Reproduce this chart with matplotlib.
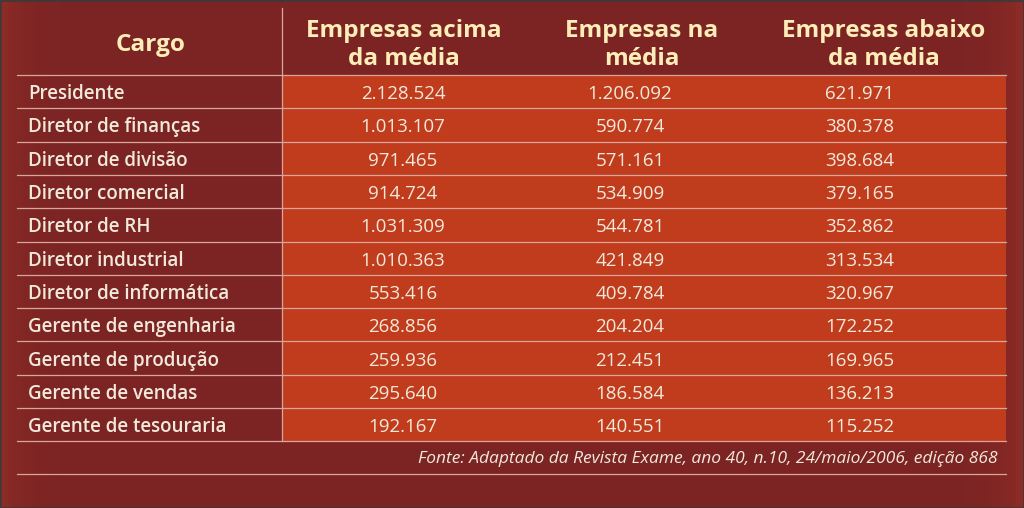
import numpy as np
import matplotlib
matplotlib.use("Agg")
import matplotlib.pyplot as plt
from matplotlib.patches import Rectangle

# table content
cargos = ["Presidente", "Diretor de finanças", "Diretor de divisão", "Diretor comercial",
          "Diretor de RH", "Diretor industrial", "Diretor de informática",
          "Gerente de engenharia", "Gerente de produção", "Gerente de vendas",
          "Gerente de tesouraria"]
acima = [2128524, 1013107, 971465, 914724, 1031309, 1010363, 553416,
         268856, 259936, 295640, 192167]
na_media = [1206092, 590774, 571161, 534909, 544781, 421849, 409784,
            204204, 212451, 186584, 140551]
abaixo = [621971, 380378, 398684, 379165, 352862, 313534, 320967,
          172252, 169965, 136213, 115252]
headers = ["Cargo", "Empresas acima\nda média", "Empresas na\nmédia", "Empresas abaixo\nda média"]
fonte = "Fonte: Adaptado da Revista Exame, ano 40, n.10, 24/maio/2006, edição 868"

BG = "#7C2424"
CELL = "#C13B1D"
LINE = "#D9A69C"
HEAD_TXT = "#FDEDB8"
BODY_TXT = "#F1EADB"
FONT = ["Open Sans", "DejaVu Sans"]


def fmt(v):
    return f"{v:,}".replace(",", ".")


W, H = 1024, 508
fig = plt.figure(figsize=(W / 100, H / 100), dpi=100)
ax = fig.add_axes([0, 0, 1, 1])
ax.set_xlim(0, W)
ax.set_ylim(H, 0)
ax.axis("off")

# background with slightly lighter side edges
x = np.linspace(0, 1, 256)
edge = np.exp(-x / 0.02) + np.exp(-(1 - x) / 0.02)
base = np.array(matplotlib.colors.to_rgb(BG))
light = np.array([0.60, 0.20, 0.15])
grad = base[None, :] * (1 - edge[:, None] * 0.6) + light[None, :] * edge[:, None] * 0.6
ax.imshow(grad[None, :, :], extent=(0, W, H, 0), aspect="auto", zorder=0)
ax.add_patch(Rectangle((0.5, 0.5), W - 1, H - 1, fill=False, ec="#3a3a3a", lw=1.2, zorder=5))

left, split, right = 17, 282, 1006
top, head_bot = 8, 75
row_h = 33.3
n = len(cargos)
table_bot = head_bot + n * row_h
foot_bot = table_bot + 33

# data cell block
ax.add_patch(Rectangle((split, head_bot), right - split, n * row_h, fc=CELL, ec="none", zorder=1))

# horizontal lines
for i in range(n + 1):
    y = head_bot + i * row_h
    ax.plot([left, right], [y, y], color=LINE, lw=0.9, zorder=2)
ax.plot([left, right], [foot_bot, foot_bot], color=LINE, lw=0.9, zorder=2)
ax.plot([split, split], [top, table_bot], color=LINE, lw=0.9, zorder=2)

# header
head_x = [151, 404, 642, 884]
for hx, h in zip(head_x, headers):
    ax.text(hx, 45, h, ha="center", va="center", fontsize=17.5,
            fontweight="bold", color=HEAD_TXT, family=FONT, linespacing=1.2, zorder=3)

# body rows
col_x = [403, 630, 860]
for i, c in enumerate(cargos):
    yc = head_bot + (i + 0.5) * row_h + 2.5
    ax.text(28, yc, c, ha="left", va="center", fontsize=13.5, color=BODY_TXT,
            family=FONT, fontweight="semibold", zorder=3)
    for cx, vals in zip(col_x, (acima, na_media, abaixo)):
        ax.text(cx, yc, fmt(vals[i]), ha="center", va="center", fontsize=13.5,
                color=BODY_TXT, family=FONT, zorder=3)

ax.text(998, (table_bot + foot_bot) / 2 + 1, fonte, ha="right", va="center", fontsize=12.5,
        style="italic", color=BODY_TXT, family=FONT, zorder=3)

fig.savefig("out.png", dpi=100, facecolor=BG)
